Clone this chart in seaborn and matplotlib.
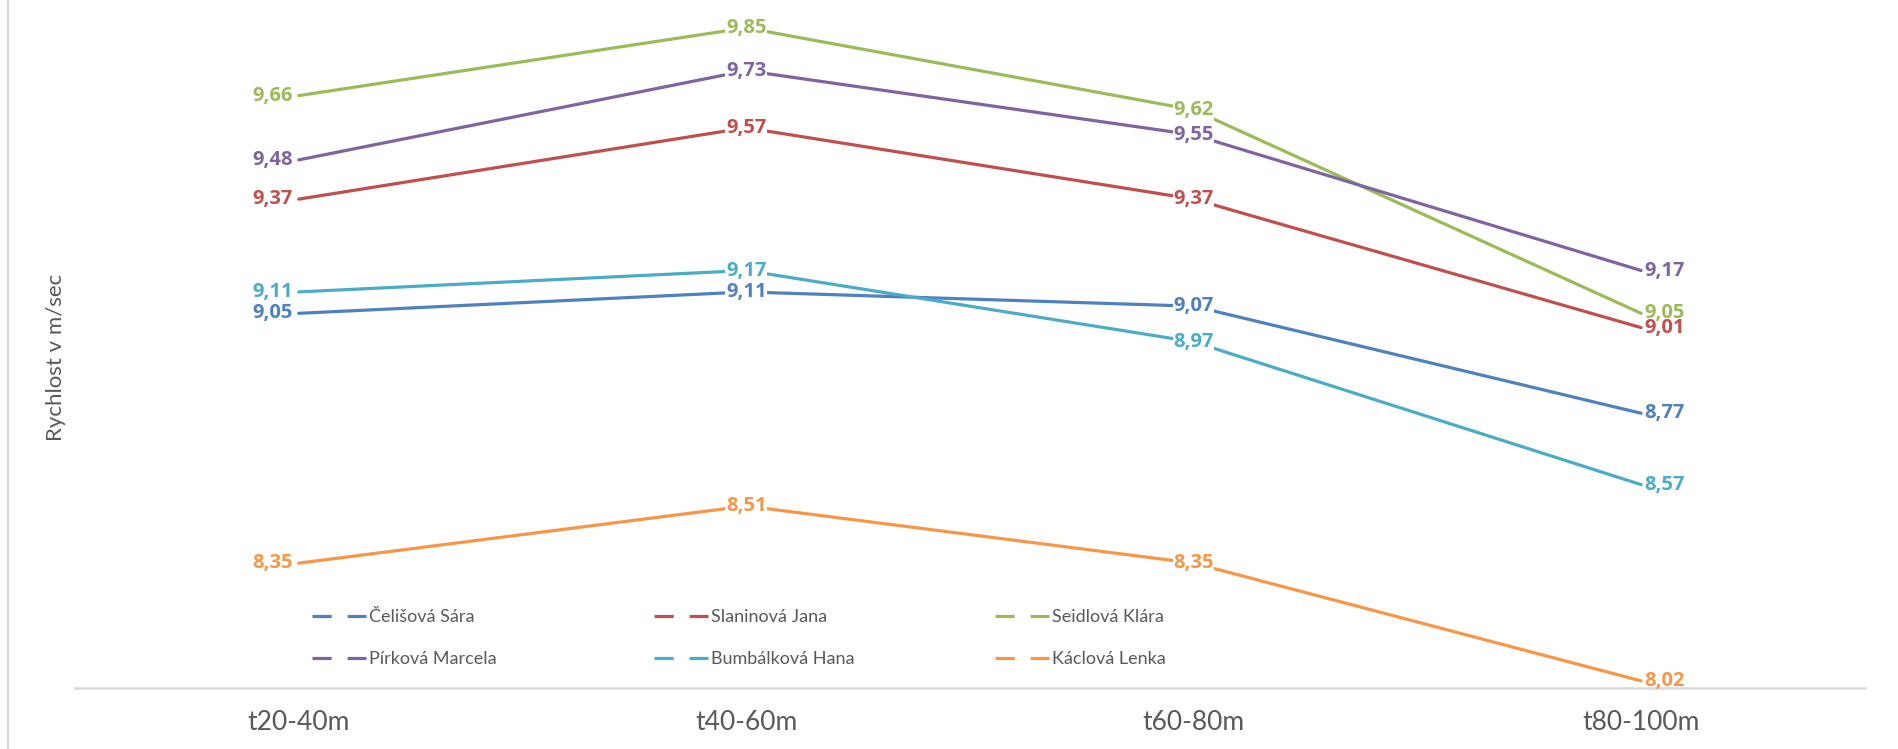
import pandas as pd
import matplotlib.pyplot as plt
import seaborn as sns
from matplotlib.lines import Line2D

# ----------------------------
# Data
# ----------------------------
segments = ["t20-40m", "t40-60m", "t60-80m", "t80-100m"]
runners = ["Čelišová Sára", "Slaninová Jana", "Seidlová Klára",
           "Pírková Marcela", "Bumbálková Hana", "Káclová Lenka"]
celisova = [9.05, 9.11, 9.07, 8.77]
slaninova = [9.37, 9.57, 9.37, 9.01]
seidlova = [9.66, 9.85, 9.62, 9.05]
pirkova = [9.48, 9.73, 9.55, 9.17]
bumbalkova = [9.11, 9.17, 8.97, 8.57]
kaclova = [8.35, 8.51, 8.35, 8.02]
colors = ["#4F81BD", "#C0504D", "#9BBB59", "#8064A2", "#4BACC6", "#F79646"]

series = [celisova, slaninova, seidlova, pirkova, bumbalkova, kaclova]
rows = []
for name, vals in zip(runners, series):
    for seg, v in zip(segments, vals):
        rows.append({"Úsek": seg, "Rychlost": v, "Závodnice": name})
df = pd.DataFrame(rows)

# ----------------------------
# Style
# ----------------------------
sns.set_style("white")
plt.rcParams['font.family'] = ['Lato', 'DejaVu Sans']
grey = "#595959"

fig = plt.figure(figsize=(18.99, 7.49), dpi=100)
ax = fig.add_axes([0.0395, 0.0814, 0.9425, 0.9186])

sns.lineplot(data=df, x="Úsek", y="Rychlost", hue="Závodnice",
             hue_order=runners, palette=colors, linewidth=2.3,
             sort=False, legend=False, ax=ax)

# data labels: left of the first point, on the middle points, right of the last
for name, vals, col in reversed(list(zip(runners, series, colors))):
    for i, v in enumerate(vals):
        box = None
        if i == 0:
            ha, dx = "right", -6
        elif i == len(vals) - 1:
            ha, dx = "left", 3
        else:
            ha, dx = "center", 0
            box = dict(boxstyle="square,pad=0.03", fc="white", ec="none")
        ax.annotate(f"{v:.2f}".replace(".", ","), (i, v), xytext=(dx, 0),
                    textcoords="offset pixels", ha=ha, va="center",
                    fontsize=14.5, fontweight="bold", color=col,
                    family=["Open Sans", "DejaVu Sans"], bbox=box)

ax.set_xlim(-0.5, 3.5)
ax.set_ylim(8.0, 9.928)
ax.set_yticks([])
ax.set_xlabel("")
ax.set_ylabel("Rychlost v m/sec", fontsize=16, color=grey)
ax.yaxis.set_label_coords(-0.005, 0.481)
ax.tick_params(axis="x", length=0, labelsize=19, labelcolor=grey, pad=16)
for s in ["left", "right", "top"]:
    ax.spines[s].set_visible(False)
ax.spines["bottom"].set_color("#D9D9D9")
ax.spines["bottom"].set_linewidth(1.8)

# legend: three columns of equal width, each a small legend of its own
col_x = [0.1324, 0.3235, 0.5140]
columns = [[0, 3], [1, 4], [2, 5]]
for cx, idx in zip(col_x, columns):
    handles = [Line2D([], [], color=colors[k], linewidth=2.3,
                      linestyle=(0, (6, 5))) for k in idx]
    leg = ax.legend(handles, [runners[k] for k in idx], loc="center left",
                    bbox_to_anchor=(cx, 0.0727), frameon=False,
                    fontsize=13, handlelength=3.0, handletextpad=0.15,
                    labelspacing=1.45, borderpad=0, borderaxespad=0)
    for t in leg.get_texts():
        t.set_color(grey)
    ax.add_artist(leg)
ax.legend_ = None

# thin chart-area border on the left edge
fig.add_artist(Line2D([0.004, 0.004], [0, 1], color="#D9D9D9", linewidth=1.5))

fig.savefig("out.png", dpi=100)
